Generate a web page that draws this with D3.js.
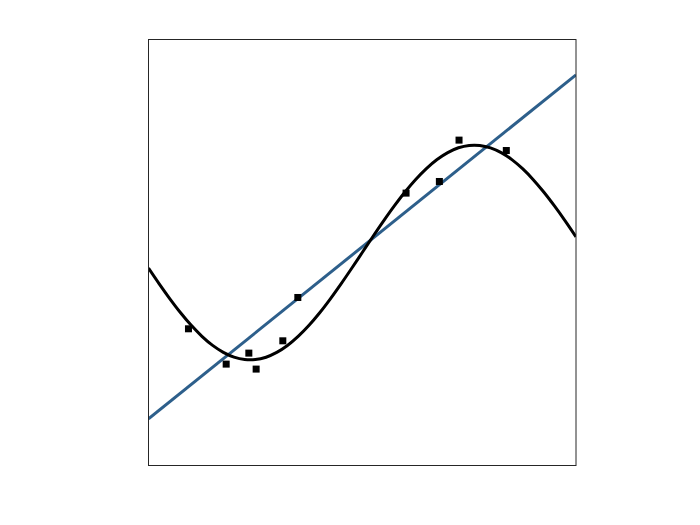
<!DOCTYPE html>
<html>
<head>
<meta charset="utf-8">
<script src="https://cdn.jsdelivr.net/npm/d3@7"></script>
<style>
  html, body { margin: 0; padding: 0; background: #ffffff; }
  svg { display: block; }
</style>
</head>
<body>
<div id="chart"></div>
<script>
// ---- data ----
const pointX = [0.935, 1.817, 2.347, 2.518, 3.142, 3.493, 6.025, 6.804, 7.264, 8.370];
const pointY = [3.209, 2.380, 2.638, 2.263, 2.927, 3.944, 6.394, 6.667, 7.638, 7.394];

const fitLineX = [0, 10];
const fitLineY = [1.096, 9.171];

const curveX = [0, 0.25, 0.5, 0.75, 1, 1.25, 1.5, 1.75, 2, 2.25, 2.5, 2.75, 3, 3.25, 3.5, 3.75, 4, 4.25, 4.5, 4.75, 5,
                5.25, 5.5, 5.75, 6, 6.25, 6.5, 6.75, 7, 7.25, 7.5, 7.75, 8, 8.25, 8.5, 8.75, 9, 9.25, 9.5, 9.75, 10];
const curveY = [4.632, 4.263, 3.913, 3.586, 3.290, 3.033, 2.819, 2.656, 2.544, 2.487, 2.486, 2.542, 2.654, 2.816, 3.029,
                3.285, 3.579, 3.906, 4.257, 4.624, 5.000, 5.376, 5.743, 6.094, 6.421, 6.715, 6.971, 7.184, 7.346, 7.458,
                7.514, 7.513, 7.456, 7.344, 7.181, 6.967, 6.710, 6.414, 6.087, 5.737, 5.368];

// ---- layout ----
const W = 700, H = 525;
const frame = { left: 148.5, right: 576, top: 39.5, bottom: 465.5 };

const svg = d3.select("#chart").append("svg")
  .attr("width", W).attr("height", H);

const x = d3.scaleLinear().domain([0, 10]).range([frame.left, frame.right]);
const y = d3.scaleLinear().domain([0, 10]).range([frame.bottom, frame.top]);

const clip = svg.append("defs").append("clipPath").attr("id", "clip")
  .append("rect")
  .attr("x", frame.left).attr("y", frame.top)
  .attr("width", frame.right - frame.left).attr("height", frame.bottom - frame.top);

const plot = svg.append("g").attr("clip-path", "url(#clip)");

// fitted linear line
const lineGen = d3.line().x(d => x(d[0])).y(d => y(d[1]));
plot.append("path")
  .datum(d3.zip(fitLineX, fitLineY))
  .attr("d", lineGen)
  .attr("fill", "none")
  .attr("stroke", "#2d5f8b")
  .attr("stroke-width", 3);

// fitted curve
const curveGen = d3.line().x(d => x(d[0])).y(d => y(d[1])).curve(d3.curveCatmullRom);
plot.append("path")
  .datum(d3.zip(curveX, curveY))
  .attr("d", curveGen)
  .attr("fill", "none")
  .attr("stroke", "#000000")
  .attr("stroke-width", 3);

// data points (squares)
const s = 7;
svg.append("g").selectAll("rect")
  .data(d3.zip(pointX, pointY))
  .join("rect")
  .attr("x", d => x(d[0]) - s / 2)
  .attr("y", d => y(d[1]) - s / 2)
  .attr("width", s).attr("height", s)
  .attr("fill", "#000000");

// frame
svg.append("rect")
  .attr("x", frame.left).attr("y", frame.top)
  .attr("width", frame.right - frame.left).attr("height", frame.bottom - frame.top)
  .attr("fill", "none")
  .attr("stroke", "#262626")
  .attr("stroke-width", 1);
</script>
</body>
</html>
